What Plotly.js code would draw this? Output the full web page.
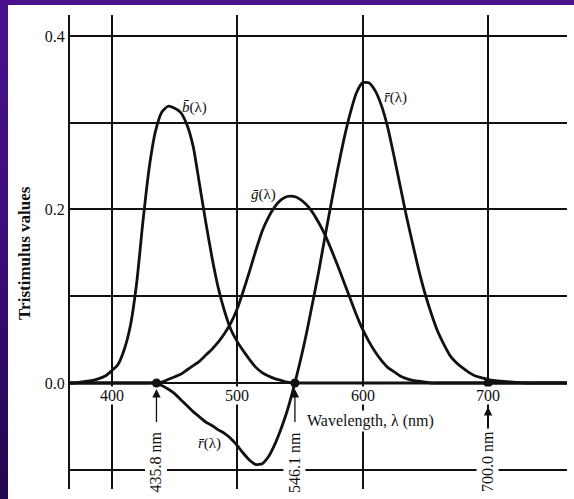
<!DOCTYPE html>
<html>
<head>
<meta charset="utf-8">
<script src="https://cdn.plot.ly/plotly-3.0.1.min.js"></script>
<style>
  html, body { margin: 0; padding: 0; width: 574px; height: 499px; overflow: hidden; background: #fff; }
  #frame { position: absolute; left: 0; top: 0; width: 574px; height: 499px;
           background: linear-gradient(to bottom, #4a128c 0%, #3a0c78 50%, #22084c 100%); }
  #panel { position: absolute; left: 8px; top: 5px; right: 0; bottom: 0; background: #fff; }
  #chart { position: absolute; left: 0; top: 0; width: 574px; height: 499px; }
</style>
</head>
<body>
<div id="frame"></div>
<div id="panel"></div>
<div id="chart"></div>
<script>
// Colour-matching functions r̄(λ), ḡ(λ), b̄(λ) for the 435.8 / 546.1 / 700.0 nm primaries
const wavelength = [360, 370, 380, 385, 390, 395, 400, 405, 410, 415, 420, 425, 430, 435,
  440, 445, 450, 455, 460, 465, 470, 475, 480, 485, 490, 495, 500, 505, 510, 515, 520, 525,
  530, 535, 540, 545, 550, 555, 560, 565, 570, 575, 580, 585, 590, 595, 600, 605, 610, 615,
  620, 625, 630, 635, 640, 645, 650, 655, 660, 665, 670, 675, 680, 685, 690, 695, 700,
  710, 720, 730, 740, 750, 760, 770];

const rBar = [0.000, 0.000, 0.000, 0.000, 0.000, 0.000, 0.000, 0.000, 0.000, 0.000, 0.000, 0.000, 0.000, 0.000,
  -0.003, -0.007, -0.012, -0.019, -0.026, -0.033, -0.039, -0.045, -0.049, -0.054, -0.058, -0.064, -0.072, -0.081, -0.089, -0.094, -0.093, -0.085,
  -0.071, -0.053, -0.032, -0.006, 0.023, 0.055, 0.091, 0.128, 0.168, 0.207, 0.245, 0.280, 0.310, 0.334, 0.346, 0.346, 0.337, 0.320,
  0.295, 0.262, 0.227, 0.192, 0.160, 0.129, 0.102, 0.079, 0.059, 0.044, 0.031, 0.023, 0.017, 0.012, 0.008, 0.006, 0.004,
  0.002, 0.001, 0.000, 0.000, 0.000, 0.000, 0.000];

const gBar = [0.000, 0.000, 0.000, 0.000, 0.000, 0.000, 0.000, 0.000, 0.000, 0.000, 0.000, 0.000, 0.000, 0.000,
  0.001, 0.004, 0.007, 0.010, 0.015, 0.020, 0.025, 0.032, 0.039, 0.047, 0.057, 0.069, 0.085, 0.106, 0.129, 0.153, 0.175, 0.191,
  0.203, 0.211, 0.215, 0.215, 0.212, 0.206, 0.197, 0.185, 0.171, 0.154, 0.136, 0.117, 0.098, 0.079, 0.062, 0.048, 0.036, 0.026,
  0.018, 0.013, 0.008, 0.005, 0.003, 0.002, 0.001, 0.000, 0.000, 0.000, 0.000, 0.000, 0.000, 0.000, 0.000, 0.000, 0.000,
  0.000, 0.000, 0.000, 0.000, 0.000, 0.000, 0.000];

const bBar = [0.000, 0.000, 0.002, 0.003, 0.005, 0.008, 0.014, 0.021, 0.038, 0.066, 0.115, 0.186, 0.248, 0.290,
  0.312, 0.319, 0.317, 0.312, 0.298, 0.273, 0.230, 0.186, 0.145, 0.110, 0.083, 0.062, 0.048, 0.037, 0.027, 0.018, 0.012, 0.008,
  0.005, 0.003, 0.001, 0.000, 0.000, 0.000, 0.000, 0.000, 0.000, 0.000, 0.000, 0.000, 0.000, 0.000, 0.000, 0.000, 0.000, 0.000,
  0.000, 0.000, 0.000, 0.000, 0.000, 0.000, 0.000, 0.000, 0.000, 0.000, 0.000, 0.000, 0.000, 0.000, 0.000, 0.000, 0.000,
  0.000, 0.000, 0.000, 0.000, 0.000, 0.000, 0.000];

// Wavelengths of the three primaries (nm)
const primaries = [435.8, 546.1, 700.0];

// Axis ticks
const xTickVals = [400, 500, 600, 700];
const xTickText = ['400', '500', '600', '700'];
const yGridVals = [-0.1, 0.0, 0.1, 0.2, 0.3, 0.4];
const yTickText = ['', '0.0', '', '0.2', '', '0.4'];

const SERIF = 'Liberation Serif, Times New Roman, serif';
const INK = '#111';

const curve = (y) => ({
  x: wavelength, y: y, type: 'scatter', mode: 'lines',
  line: { color: INK, width: 2.8, shape: 'spline', smoothing: 0.6 },
  hoverinfo: 'skip'
});

const traces = [
  curve(bBar),
  curve(gBar),
  curve(rBar),
  {
    x: primaries, y: primaries.map(() => 0), type: 'scatter', mode: 'markers',
    marker: { color: INK, size: 9 }, hoverinfo: 'skip'
  }
];

const annotations = [];

// wavelength tick labels sit just under the zero line
xTickVals.forEach((v, i) => annotations.push({
  x: v, y: 0, xref: 'x', yref: 'y', yshift: -13, showarrow: false,
  text: xTickText[i], bgcolor: '#fff', borderpad: 0,
  font: { family: SERIF, size: 16, color: INK }
}));

// arrows and rotated labels for the primaries
primaries.forEach((w) => {
  const hasTick = xTickVals.includes(Math.round(w));
  annotations.push({
    x: w, y: 0, xref: 'x', yref: 'y', text: ' ', showarrow: true,
    ax: 0, ay: 41, arrowhead: 2, arrowsize: 1.3, arrowwidth: 1.3,
    arrowcolor: INK, standoff: hasTick ? 24 : 6, font: { size: 1 }
  });
  annotations.push({
    x: w, y: 0, xref: 'x', yref: 'y', yshift: -79, showarrow: false,
    text: w.toFixed(1) + ' nm', textangle: -90, bgcolor: '#fff', borderpad: 2,
    font: { family: SERIF, size: 16, color: INK }
  });
});

// curve names
const curveName = (x, y, letter) => ({
  x: x, y: y, xref: 'x', yref: 'y', xanchor: 'left', yanchor: 'middle', showarrow: false,
  text: '<i>' + letter + '\u0304</i>(λ)', font: { family: SERIF, size: 15, color: INK }
});
annotations.push(curveName(454.5, 0.318, 'b'));
annotations.push(curveName(509.5, 0.217, 'g'));
annotations.push(curveName(615.5, 0.329, 'r'));
annotations.push(curveName(467.0, -0.070, 'r'));

// axis titles
annotations.push({
  x: 554.5, y: -0.044, xref: 'x', yref: 'y', xanchor: 'left', yanchor: 'middle',
  showarrow: false, text: 'Wavelength, λ (nm)', bgcolor: '#fff', borderpad: 1,
  font: { family: SERIF, size: 16, color: INK }
});
annotations.push({
  x: -0.0905, y: 0.498, xref: 'paper', yref: 'paper', xanchor: 'center', yanchor: 'middle',
  showarrow: false, text: '<b>Tristimulus values</b>', textangle: -90,
  font: { family: SERIF, size: 17, color: INK }
});

const layout = {
  width: 574, height: 499,
  margin: { l: 70, r: 7, t: 15, b: 10 },
  paper_bgcolor: 'rgba(0,0,0,0)',
  plot_bgcolor: 'rgba(0,0,0,0)',
  showlegend: false,
  font: { family: SERIF, color: INK },
  xaxis: {
    range: [366.9, 762.9], tickvals: xTickVals, showticklabels: false,
    showgrid: true, gridcolor: INK, gridwidth: 2,
    zeroline: false, showline: false, ticks: ''
  },
  yaxis: {
    range: [-0.1222, 0.4242], tickvals: yGridVals, ticktext: yTickText,
    showgrid: true, gridcolor: INK, gridwidth: 2,
    zeroline: false, showline: true, linecolor: INK, linewidth: 2, ticks: '',
    tickfont: { family: SERIF, size: 16, color: INK }
  },
  annotations: annotations
};

Plotly.newPlot('chart', traces, layout, { staticPlot: true, displayModeBar: false });
</script>
</body>
</html>
